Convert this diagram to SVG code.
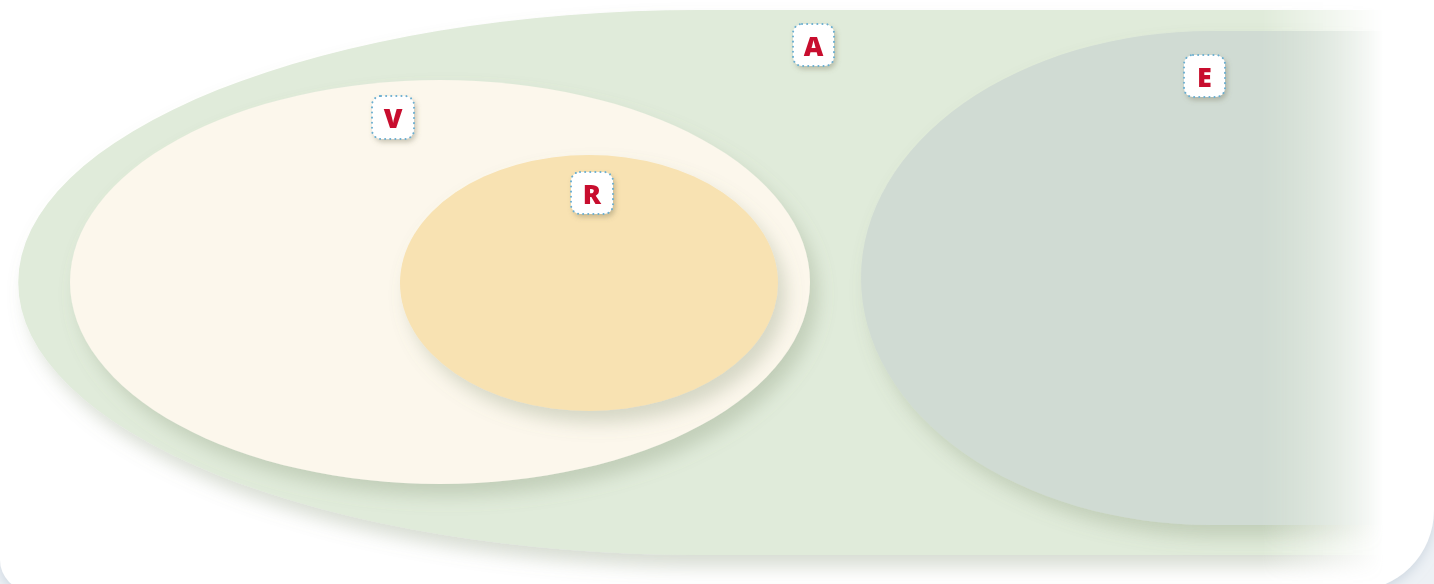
<svg xmlns="http://www.w3.org/2000/svg" width="1434" height="584" viewBox="0 0 1434 584">
<style>
.lbl-box{fill:#ffffff;stroke:#6aaed0;stroke-width:2;stroke-dasharray:0.1 5;stroke-linecap:round}
.lbl{font-family:"Open Sans","Liberation Sans",sans-serif;font-weight:800;font-size:27px;fill:#c8102e;text-anchor:middle;dominant-baseline:central}
</style>
<defs>
<filter id="card" x="-10%" y="-10%" width="120%" height="130%">
<feDropShadow dx="0" dy="4" stdDeviation="6" flood-color="#b9c6d3" flood-opacity="0.6"/>
</filter>
<filter id="sh" x="-10%" y="-10%" width="125%" height="130%">
<feDropShadow dx="8" dy="12" stdDeviation="9" flood-color="#7f8f6f" flood-opacity="0.3"/>
</filter>
<filter id="lsh" x="-30%" y="-30%" width="170%" height="170%">
<feDropShadow dx="2" dy="3" stdDeviation="2.5" flood-color="#6d6a50" flood-opacity="0.35"/>
</filter>
<linearGradient id="fadeG" x1="0" y1="0" x2="1434" y2="0" gradientUnits="userSpaceOnUse">
<stop offset="0.88" stop-color="#fff"/>
<stop offset="0.965" stop-color="#fff" stop-opacity="0"/>
</linearGradient>
<mask id="fade" maskUnits="userSpaceOnUse" x="0" y="0" width="1434" height="584">
<rect x="0" y="0" width="1434" height="584" fill="url(#fadeG)"/>
</mask>
</defs>
<rect x="0" y="0" width="1434" height="584" fill="#edf1f5"/>
<path d="M0 -60 H1434 V510 A81 81 0 0 1 1353 591 H31 A31 31 0 0 1 0 560 Z" fill="#ffffff" filter="url(#card)"/>
<g id="node-A">
<path d="M1400 10 L700 10 A682 272.5 0 0 0 700 555 L1400 555 Z" fill="#e0ebda" filter="url(#sh)" mask="url(#fade)"/>
</g>
<g id="node-V">
<ellipse cx="440" cy="282" rx="370" ry="202" fill="#fcf7ec" filter="url(#sh)"/>
</g>
<g id="node-R">
<ellipse cx="589" cy="283" rx="189" ry="128" fill="#f8e2b2" filter="url(#sh)"/>
</g>
<g id="node-E">
<path d="M1400 31 L1211 31 A350 247 0 0 0 1211 525 L1400 525 Z" fill="#d0dbd3" filter="url(#sh)" mask="url(#fade)"/>
</g>
<g id="labels">
<g id="label-A" filter="url(#lsh)"><rect class="lbl-box" x="793" y="24" width="41" height="42" rx="9"/><text class="lbl" x="813.5" y="45">A</text></g>
<g id="label-V" filter="url(#lsh)"><rect class="lbl-box" x="372" y="96" width="42" height="43" rx="9"/><text class="lbl" x="393" y="117.5">V</text></g>
<g id="label-R" filter="url(#lsh)"><rect class="lbl-box" x="571" y="172" width="42" height="42" rx="9"/><text class="lbl" x="592" y="193">R</text></g>
<g id="label-E" filter="url(#lsh)"><rect class="lbl-box" x="1184" y="55" width="41" height="42" rx="9"/><text class="lbl" x="1204.5" y="76">E</text></g>
</g>
<g id="connectors"/>
</svg>
